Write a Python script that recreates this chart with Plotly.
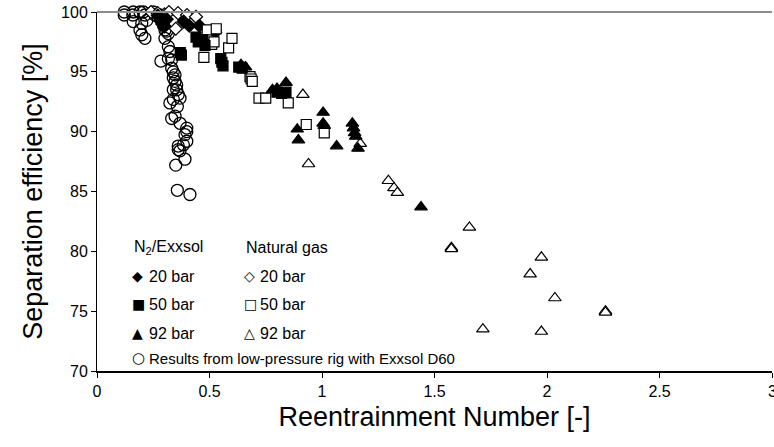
import plotly.graph_objects as go

# ---- data ----
lp_x = [0.121, 0.121, 0.161, 0.159, 0.161, 0.191, 0.199, 0.191, 0.199, 0.213, 0.206, 0.213,
        0.221, 0.250, 0.258, 0.280, 0.287, 0.295, 0.302, 0.310, 0.302, 0.317, 0.284, 0.317,
        0.324, 0.317, 0.332, 0.332, 0.339, 0.339, 0.347, 0.347, 0.354, 0.339, 0.354, 0.361,
        0.324, 0.339, 0.369, 0.357, 0.347, 0.332, 0.369, 0.399, 0.399, 0.391, 0.399, 0.384,
        0.361, 0.369, 0.361, 0.391, 0.350, 0.357, 0.413]
lp_y = [100.0, 99.75, 100.0, 99.75, 99.2, 100.0, 99.05, 98.5, 98.1, 97.8, 100.0, 99.75,
        99.3, 100.0, 99.75, 99.75, 99.3, 98.9, 98.5, 98.4, 97.8, 98.2, 95.9, 97.1,
        96.7, 96.1, 96.0, 95.3, 95.0, 94.5, 94.75, 94.2, 93.9, 93.5, 93.5, 93.1,
        92.4, 92.7, 92.8, 92.1, 91.3, 91.1, 90.7, 90.3, 90.0, 89.75, 89.2, 88.9,
        88.8, 88.4, 88.5, 87.7, 87.2, 85.1, 84.75]

n2_20_x = [0.27, 0.28, 0.29, 0.30, 0.31, 0.385, 0.41, 0.455, 0.525]
n2_20_y = [99.7, 99.3, 99.0, 98.8, 99.4, 99.2, 98.85, 98.85, 98.3]

ng_20_x = [0.24, 0.27, 0.30, 0.32, 0.36, 0.40, 0.44, 0.35]
ng_20_y = [100.0, 99.9, 99.8, 100.0, 99.9, 99.75, 99.6, 98.6]

n2_50_x = [0.37, 0.375, 0.44, 0.45, 0.47, 0.48, 0.55, 0.555, 0.56, 0.63, 0.645, 0.80, 0.82, 0.84]
n2_50_y = [96.6, 96.4, 97.9, 97.5, 97.7, 97.2, 96.1, 95.8, 95.5, 95.4, 95.3, 93.3, 93.2, 93.3]

ng_50_x = [0.475, 0.49, 0.51, 0.53, 0.585, 0.60, 0.52, 0.68, 0.685, 0.69, 0.72, 0.75, 0.85, 0.93, 1.01]
ng_50_y = [96.2, 98.5, 97.3, 98.6, 97.0, 97.8, 97.5, 94.6, 94.4, 94.2, 92.8, 92.8, 92.4, 90.6, 89.9]

n2_92_x = [0.64, 0.66, 0.78, 0.80, 0.84, 0.89, 0.895, 1.005, 1.005, 1.01, 1.065, 1.135, 1.14,
           1.145, 1.15, 1.16, 1.44]
n2_92_y = [95.6, 95.4, 93.5, 93.6, 94.1, 90.2, 89.3, 91.6, 90.7, 90.5, 88.8, 90.7, 90.3,
           89.9, 89.6, 88.6, 83.7]

ng_92_x = [0.915, 0.94, 1.17, 1.295, 1.32, 1.335, 1.575, 1.575, 1.655, 1.715, 1.925, 1.975,
           1.975, 2.035, 2.26, 2.26]
ng_92_y = [93.1, 87.3, 89.0, 85.9, 85.3, 84.9, 80.3, 80.2, 82.0, 73.5, 78.1, 79.5,
           73.3, 76.1, 75.0, 74.9]

x_ticks = [0, 0.5, 1, 1.5, 2, 2.5, 3]
x_tick_text = ["0", "0.5", "1", "1.5", "2", "2.5", ""]
x_last_tick = "3"
y_ticks = [70, 75, 80, 85, 90, 95, 100]

FONT = "Liberation Sans, Arial, Helvetica, sans-serif"

fig = go.Figure()


def add(x, y, symbol, size, fill, width=1.2):
    fig.add_trace(go.Scatter(
        x=x, y=y, mode="markers", cliponaxis=False, showlegend=False,
        marker=dict(symbol=symbol, size=size, color=fill,
                    line=dict(color="black", width=width)),
    ))


add(lp_x, lp_y, "circle", 12, "rgba(0,0,0,0)", 1.3)
add(ng_20_x, ng_20_y, "diamond", 10, "white")
add(n2_20_x, n2_20_y, "diamond", 10, "black")
add(ng_50_x, ng_50_y, "square", 10, "white")
add(n2_50_x, n2_50_y, "square", 10, "black")
add(ng_92_x, ng_92_y, "triangle-up", 11, "white")
add(n2_92_x, n2_92_y, "triangle-up", 11, "black")

# top border of plot area (grey)
fig.add_shape(type="line", xref="paper", yref="paper", x0=0, x1=1, y0=1, y1=1,
              line=dict(color="#8c8c8c", width=2))

# last x tick label (partly cut by the window edge, as in the reference)
fig.add_annotation(x=1, y=0, xref="paper", yref="paper", text=x_last_tick, showarrow=False,
                   xanchor="center", yanchor="top", yshift=-10,
                   font=dict(family=FONT, size=16, color="black"))

# custom two-column legend
GLYPH = "DejaVu Sans, sans-serif"
x_l_glyph, x_l_text = 133, 147
x_r_glyph, x_r_text = 244, 258
plot_l, plot_w, plot_b, plot_h = 97, 675, 371, 359


def px(xp):
    return (xp - plot_l) / plot_w


def py(yp):
    return (plot_b - yp) / plot_h


def ann(xp, yp, text, family=FONT, size=16):
    fig.add_annotation(x=px(xp), y=py(yp), xref="paper", yref="paper", text=text,
                       showarrow=False, xanchor="left", yanchor="middle",
                       font=dict(family=family, size=size, color="black"))


ann(x_l_glyph - 1, 247, "N<sub>2</sub>/Exxsol")
ann(x_r_glyph, 247, "Natural gas")
rows = [(276, "\u25C6", "\u25C7", "20 bar"), (304, "\u25A0", "\u25A1", "50 bar"),
        (333, "\u25B2", "\u25B3", "92 bar")]
for yp, gl, gr, label in rows:
    ann(x_l_glyph - 3, yp, gl, GLYPH, 14)
    ann(x_l_text, yp, label)
    ann(x_r_glyph - 2, yp, gr, GLYPH, 14)
    ann(x_r_text, yp, label)
ann(x_l_glyph - 3, 358, "\u25CB", GLYPH, 15)
ann(x_l_text, 358, "Results from low-pressure rig with Exxsol D60", size=15)

fig.update_layout(
    width=774, height=447,
    margin=dict(l=97, r=2, t=12, b=76),
    paper_bgcolor="white", plot_bgcolor="white",
    font=dict(family=FONT, color="black", size=16),
    xaxis=dict(range=[0, 3], tickvals=x_ticks, ticktext=x_tick_text,
               showgrid=False, zeroline=False, showline=True, linecolor="black", linewidth=1.5,
               ticks="outside", ticklen=5, tickcolor="black",
               tickfont=dict(size=16),
               title=dict(text="Reentrainment Number [-]", font=dict(size=27), standoff=8)),
    yaxis=dict(range=[70, 100], tickvals=y_ticks,
               showgrid=False, zeroline=False, showline=True, linecolor="black", linewidth=1,
               ticks="outside", ticklen=5, tickcolor="black",
               tickfont=dict(size=16),
               title=dict(text="Separation efficiency [%]", font=dict(size=27), standoff=10)),
)

fig.write_html("out.html")
